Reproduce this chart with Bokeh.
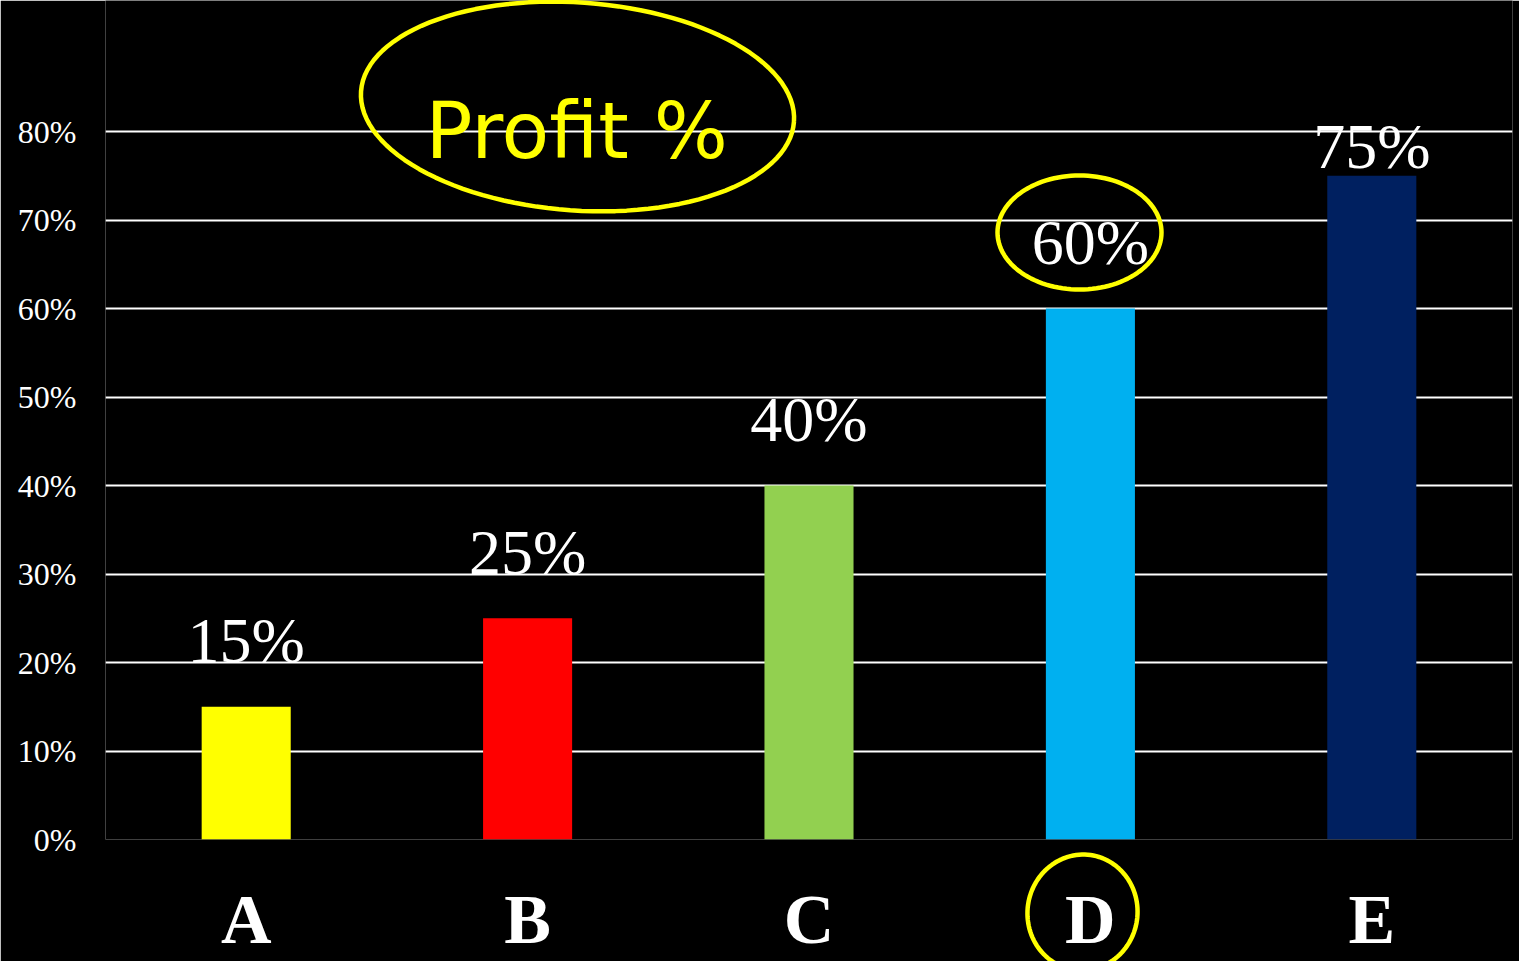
import numpy as np
from bokeh.plotting import figure
from bokeh.models import (FactorRange, Range1d, FixedTicker, NumeralTickFormatter,
                          ColumnDataSource)
from bokeh.core.properties import value
from bokeh.embed import file_html
from bokeh.resources import INLINE

# ---- data ----
categories = ["A", "B", "C", "D", "E"]
profit = [0.15, 0.25, 0.40, 0.60, 0.75]
value_labels = ["15%", "25%", "40%", "60%", "75%"]
bar_colors = ["#FFFF00", "#FF0000", "#92D050", "#00B0F0", "#002060"]
y_ticks = [0.0, 0.1, 0.2, 0.3, 0.4, 0.5, 0.6, 0.7, 0.8]
annotation_text = "Profit %"

# ---- layout ----
W, H = 1519, 961
FRAME_LEFT_PAGE = 105.0
FRAME_BOTTOM_PAGE = 839.0
CAT_PX = (1512.0 - 105.0) / 5   # pixels per category
PCT_PX = 885.0                  # pixels per 100%

label_offsets = [-66 if c != "E" else -29 for c in categories]

src = ColumnDataSource(dict(cat=categories, profit=profit, label=value_labels,
                            color=bar_colors, yoff=label_offsets))

p = figure(width=W, height=H,
           x_range=FactorRange(*categories),
           y_range=Range1d(0, FRAME_BOTTOM_PAGE / PCT_PX),
           output_backend="svg", toolbar_location=None,
           min_border_left=105, min_border_right=7, min_border_top=0, min_border_bottom=122,
           background_fill_color="black", border_fill_color="black",
           outline_line_color=None)

p.vbar(x="cat", top="profit", width=0.3165, color="color", line_color=None, source=src)

p.text(x="cat", y="profit", text="label", y_offset="yoff", source=src,
       text_align="center", text_baseline="alphabetic", text_color="white",
       text_font=value("Liberation Serif"), text_font_size="64px")

# axes
xa = p.xaxis[0]
xa.axis_line_color = None
xa.major_tick_line_color = None
xa.minor_tick_line_color = None
xa.major_label_standoff = 35
xa.major_label_text_font = "Liberation Serif"
xa.major_label_text_font_style = "bold"
xa.major_label_text_font_size = "70px"
xa.major_label_text_color = "white"

ya = p.yaxis[0]
ya.ticker = FixedTicker(ticks=y_ticks)
ya.formatter = NumeralTickFormatter(format="0%")
ya.axis_line_color = None
ya.major_tick_line_color = None
ya.minor_tick_line_color = None
ya.major_label_standoff = 23
ya.major_label_text_font = "Liberation Serif"
ya.major_label_text_font_size = "32px"
ya.major_label_text_color = "white"

p.xgrid.grid_line_color = None
p.ygrid.ticker = FixedTicker(ticks=y_ticks)
p.ygrid.grid_line_color = "white"
p.ygrid.grid_line_width = 2


def to_data(px, py):
    return (np.asarray(px) - FRAME_LEFT_PAGE) / CAT_PX, (FRAME_BOTTOM_PAGE - np.asarray(py)) / PCT_PX


def hand_ellipse(cx, cy, rx, ry, tilt_deg):
    t = np.linspace(0, 2 * np.pi, 121)
    a = np.deg2rad(tilt_deg)
    ex, ey = rx * np.cos(t), ry * np.sin(t)
    px = cx + ex * np.cos(a) - ey * np.sin(a)
    py = cy + ex * np.sin(a) + ey * np.cos(a)
    xs, ys = to_data(px, py)
    p.line(x=list(xs), y=list(ys), line_color="#FFFF00", line_width=4.5, level="overlay")


# handwritten annotation
tx, ty = to_data(425, 130)
p.text(x=[float(tx)], y=[float(ty)], text=[annotation_text], text_color="#FFFF00",
       text_align="left", text_baseline="alphabetic",
       text_font=value("DejaVu Sans"), text_font_size="78px")

hand_ellipse(577, 106, 217, 104, 4)
hand_ellipse(1079, 232, 82, 57, 0)
hand_ellipse(1082, 912, 55, 58, 8)

open("out.html", "w").write(file_html(p, INLINE))
